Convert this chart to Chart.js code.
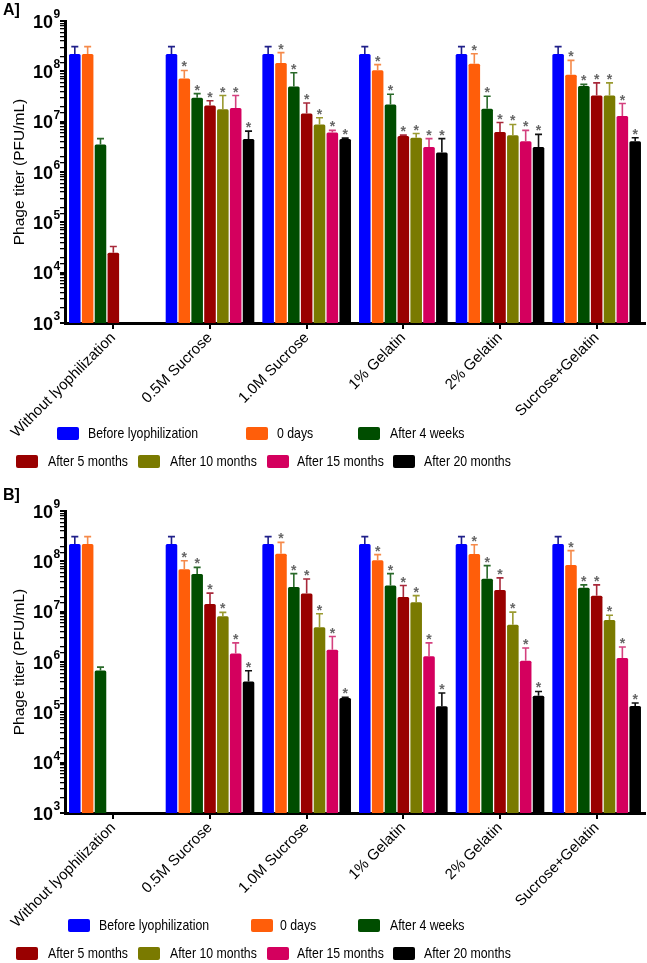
<!DOCTYPE html>
<html>
<head>
<meta charset="utf-8">
<script src="https://cdn.jsdelivr.net/npm/chart.js@4"></script>
<style>
  body { margin: 0; background: #fff; font-family: "Liberation Sans", Arial, sans-serif; }
  .panel { position: relative; width: 647px; }
  .panel canvas { display: block; }
  .tag { position: absolute; left: 3px; font-weight: bold; font-size: 16px; }
  .swatch { position: absolute; width: 22px; height: 13px; border-radius: 2px; }
  .text { position: absolute; font-size: 15px; line-height: 16px; white-space: nowrap;
          transform: scaleX(0.82); transform-origin: left center; }
</style>
</head>
<body>
<div class="panel" id="panelA" style="height:481px">
  <canvas id="chartA" width="647" height="481"></canvas>
  <div class="tag" style="top:1px">A]</div>
</div>
<div class="panel" id="panelB" style="height:482px">
  <canvas id="chartB" width="647" height="482"></canvas>
  <div class="tag" style="top:5px">B]</div>
</div>
<script>
const groups = ['Without lyophilization', '0.5M Sucrose', '1.0M Sucrose', '1% Gelatin', '2% Gelatin', 'Sucrose+Gelatin'];
const seriesNames = ['Before lyophilization', '0 days', 'After 4 weeks', 'After 5 months', 'After 10 months', 'After 15 months', 'After 20 months'];
const seriesColors = ['#0000ff', '#ff5e0a', '#004d00', '#990000', '#7a7a00', '#d4005e', '#000000'];
const errorColors = ['#20208a', '#f58a4a', '#2a6a2a', '#a8283a', '#9a9a30', '#d4407e', '#111111'];
const yTickExponents = [3, 4, 5, 6, 7, 8, 9];   // labels 10^3 ... 10^9

// significance stars: every series except "Before", every group except the control
const starredSeries = [false, true, true, true, true, true, true];
const starredGroups = [false, true, true, true, true, true];

// Panel A - mean titers and upper error values (PFU/mL)
const aBefore    = [2.2e8, 2.2e8, 2.2e8, 2.2e8, 2.2e8, 2.2e8];
const aBeforeErr = [3.1e8, 3.1e8, 3.1e8, 3.1e8, 3.1e8, 3.1e8];
const a0days     = [2.2e8, 7.2e7, 1.46e8, 1.05e8, 1.42e8, 8.6e7];
const a0daysErr  = [3.1e8, 1.04e8, 2.35e8, 1.36e8, 2.24e8, 1.65e8];
const a4weeks    = [3.5e6, 3.0e7, 5.0e7, 2.2e7, 1.8e7, 5.1e7];
const a4weeksErr = [4.6e6, 3.6e7, 9.4e7, 3.5e7, 3.2e7, 5.5e7];
const a5months    = [2.5e4, 2.1e7, 1.45e7, 5.2e6, 6.25e6, 3.3e7];
const a5monthsErr = [3.3e4, 2.6e7, 2.35e7, 5.4e6, 9.6e6, 5.9e7];
const a10months    = [null, 1.76e7, 8.8e6, 4.8e6, 5.4e6, 3.3e7];
const a10monthsErr = [null, 3.3e7, 1.2e7, 5.8e6, 8.8e6, 5.9e7];
const a15months    = [null, 1.86e7, 6.1e6, 3.15e6, 4.1e6, 1.3e7];
const a15monthsErr = [null, 3.3e7, 6.7e6, 4.6e6, 6.7e6, 2.29e7];
const a20months    = [null, 4.5e6, 4.5e6, 2.44e6, 3.15e6, 4.1e6];
const a20monthsErr = [null, 6.5e6, 4.7e6, 4.6e6, 5.6e6, 4.8e6];

// Panel B
const bBefore    = [2.2e8, 2.2e8, 2.2e8, 2.2e8, 2.2e8, 2.2e8];
const bBeforeErr = [3.1e8, 3.1e8, 3.1e8, 3.1e8, 3.1e8, 3.1e8];
const b0days     = [2.2e8, 7.0e7, 1.42e8, 1.05e8, 1.4e8, 8.5e7];
const b0daysErr  = [3.1e8, 1.03e8, 2.38e8, 1.36e8, 2.14e8, 1.63e8];
const b4weeks    = [6.8e5, 5.6e7, 3.1e7, 3.3e7, 4.5e7, 3.0e7];
const b4weeksErr = [7.9e5, 7.6e7, 5.7e7, 5.7e7, 8.2e7, 3.4e7];
const b5months    = [null, 1.42e7, 2.3e7, 1.95e7, 2.7e7, 2.08e7];
const b5monthsErr = [null, 2.34e7, 4.45e7, 3.3e7, 4.7e7, 3.4e7];
const b10months    = [null, 8.1e6, 4.9e6, 1.53e7, 5.5e6, 6.8e6];
const b10monthsErr = [null, 9.7e6, 9.1e6, 2.08e7, 9.8e6, 8.5e6];
const b15months    = [null, 1.47e6, 1.76e6, 1.3e6, 1.06e6, 1.2e6];
const b15monthsErr = [null, 2.4e6, 3.2e6, 2.4e6, 1.9e6, 1.99e6];
const b20months    = [null, 4.1e5, 1.93e5, 1.32e5, 2.14e5, 1.34e5];
const b20monthsErr = [null, 6.7e5, 1.98e5, 2.42e5, 2.6e5, 1.53e5];

const FONT = '"Liberation Sans", Arial, sans-serif';
Chart.defaults.font.family = FONT;
Chart.defaults.color = '#000';

// upper error whiskers + stars
const errorBars = {
    id: 'errorBars',
    afterDatasetsDraw(chart) {
        const ctx = chart.ctx;
        const yScale = chart.scales.y;
        chart.data.datasets.forEach((ds, i) => {
            const meta = chart.getDatasetMeta(i);
            meta.data.forEach((bar, j) => {
                const hi = ds.errorHigh[j];
                if (ds.data[j] == null || hi == null) return;
                const top = yScale.getPixelForValue(hi);
                ctx.save();
                ctx.strokeStyle = ds.errorColor;
                ctx.lineWidth = 1.6;
                ctx.beginPath();
                ctx.moveTo(bar.x, bar.y);
                ctx.lineTo(bar.x, top);
                ctx.moveTo(bar.x - 3.5, top);
                ctx.lineTo(bar.x + 3.5, top);
                ctx.stroke();
                if (starredSeries[i] && starredGroups[j]) {
                    ctx.fillStyle = '#666';
                    ctx.font = 'bold 14px ' + FONT;
                    ctx.textAlign = 'center';
                    ctx.textBaseline = 'alphabetic';
                    ctx.fillText('*', bar.x, top + 1);
                }
                ctx.restore();
            });
        });
    }
};

// "10" with a raised exponent at each decade of the log axis
const decadeLabels = {
    id: 'decadeLabels',
    afterDraw(chart) {
        const ctx = chart.ctx;
        const ys = chart.scales.y;
        ctx.save();
        ctx.fillStyle = '#000';
        yTickExponents.forEach(e => {
            const py = ys.getPixelForValue(Math.pow(10, e));
            const right = ys.right - 12;
            ctx.font = 'bold 18px ' + FONT;
            ctx.textAlign = 'right';
            ctx.textBaseline = 'alphabetic';
            ctx.fillText('10', right, py + 6.5);
            ctx.font = 'bold 12px ' + FONT;
            ctx.textAlign = 'left';
            ctx.fillText(String(e), right + 0.5, py - 3);
        });
        ctx.restore();
    }
};

function buildLegend(panelId, rows) {
    const panel = document.getElementById(panelId);
    let k = 0;
    rows.forEach(row => {
        row.items.forEach(([boxX, textX]) => {
            const sw = document.createElement('div');
            sw.className = 'swatch';
            sw.style.left = boxX + 'px';
            sw.style.top = (row.y - 6.5) + 'px';
            sw.style.background = seriesColors[k];
            panel.appendChild(sw);
            const tx = document.createElement('div');
            tx.className = 'text';
            tx.style.left = textX + 'px';
            tx.style.top = (row.y - 8) + 'px';
            tx.textContent = seriesNames[k];
            panel.appendChild(tx);
            k++;
        });
    });
}

function makeChart(canvasId, values, errors, topPad, axisHeight) {
    const datasets = values.map((v, i) => ({
        label: seriesNames[i],
        data: v,
        errorHigh: errors[i],
        errorColor: errorColors[i],
        backgroundColor: seriesColors[i],
        borderWidth: 0,
        borderRadius: { topLeft: 1.5, topRight: 1.5 },
        barPercentage: 0.9,
        categoryPercentage: 0.93
    }));

    return new Chart(document.getElementById(canvasId), {
        type: 'bar',
        data: { labels: groups, datasets: datasets },
        options: {
            responsive: false,
            animation: false,
            devicePixelRatio: 1,
            layout: { padding: { top: topPad, right: 2, left: 0, bottom: 0 } },
            plugins: { legend: { display: false }, tooltip: { enabled: false } },
            scales: {
                x: {
                    border: { display: true, color: '#000', width: 3 },
                    grid: { drawOnChartArea: false, drawTicks: true, tickLength: 6, color: '#000', lineWidth: 2, offset: false },
                    ticks: { minRotation: 45, maxRotation: 45, autoSkip: false, padding: 0, font: { size: 15 } },
                    afterFit: s => { s.height = axisHeight; }
                },
                y: {
                    type: 'logarithmic',
                    min: 1e3,
                    max: 1e9,
                    border: { display: true, color: '#000', width: 3 },
                    grid: {
                        drawOnChartArea: false, drawTicks: true, tickLength: 5, color: '#000',
                        lineWidth: c => (c.tick && c.tick.major) ? 2 : 1.3
                    },
                    ticks: { display: false, autoSkip: false },
                    title: { display: true, text: 'Phage titer (PFU/mL)', font: { size: 15.5 }, padding: { top: 10, bottom: 0 } },
                    afterFit: s => { s.width = 65; }
                }
            }
        },
        plugins: [errorBars, decadeLabels]
    });
}

makeChart('chartA',
    [aBefore, a0days, a4weeks, a5months, a10months, a15months, a20months],
    [aBeforeErr, a0daysErr, a4weeksErr, a5monthsErr, a10monthsErr, a15monthsErr, a20monthsErr],
    21, 158);

makeChart('chartB',
    [bBefore, b0days, b4weeks, b5months, b10months, b15months, b20months],
    [bBeforeErr, b0daysErr, b4weeksErr, b5monthsErr, b10monthsErr, b15monthsErr, b20monthsErr],
    30, 150);

buildLegend('panelA', [
    { y: 433, items: [[57, 88], [246, 277], [358, 390]] },
    { y: 461, items: [[16, 48], [138, 170], [267, 297], [393, 424]] }
]);
buildLegend('panelB', [
    { y: 444, items: [[68, 99], [251, 280], [358, 390]] },
    { y: 472, items: [[16, 48], [138, 170], [267, 297], [393, 424]] }
]);
</script>
</body>
</html>
